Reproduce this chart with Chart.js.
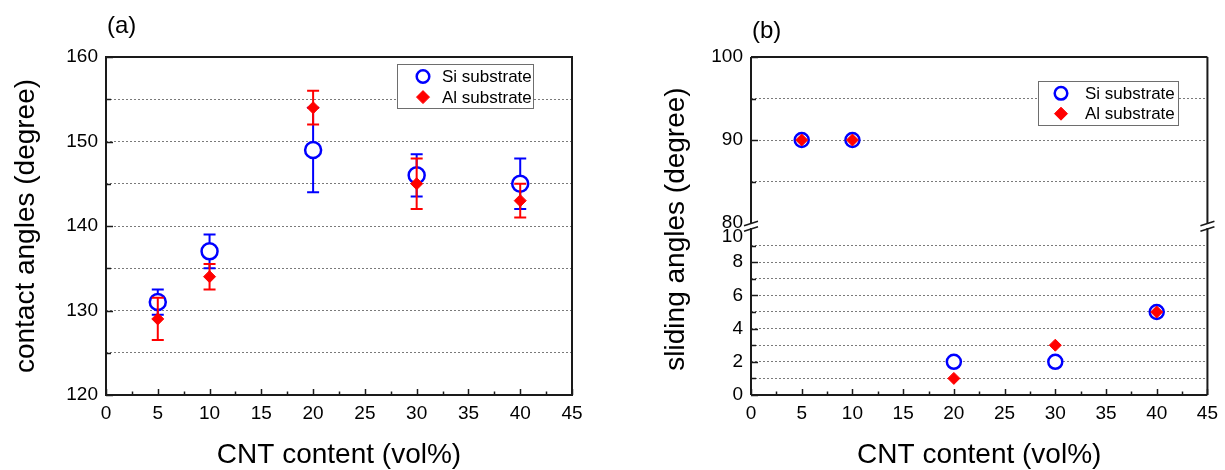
<!DOCTYPE html>
<html>
<head>
<meta charset="utf-8">
<title>Contact and sliding angles</title>
<script src="https://cdn.jsdelivr.net/npm/chart.js"></script>
<style>
    html, body { margin: 0; padding: 0; background: #fff; }
    #wrap { position: relative; width: 1225px; height: 470px; }
    .panel { position: absolute; top: 0; height: 470px; }
    #panel-a { left: 0; width: 612px; }
    #panel-b { left: 612px; width: 613px; }
</style>
</head>
<body>
<div id="wrap">
    <div class="panel" id="panel-a"><canvas id="contact"></canvas></div>
    <div class="panel" id="panel-b"><canvas id="sliding"></canvas></div>
</div>
<script>
const FONT = '"Liberation Sans", Arial, sans-serif';
Chart.defaults.font.family = FONT;
Chart.defaults.color = '#000';

// CNT content of the coatings (vol%)
const cntContent = [5, 10, 20, 30, 40];

// contact angles and their error (+/-)
const siContact = [131, 137, 149, 146, 145];
const siContactErr = [1.5, 2, 5, 2.5, 3];
const alContact = [129, 134, 154, 145, 143];
const alContactErr = [2.5, 1.5, 2, 3, 2];

// sliding angles, 90 means the droplet did not slide
const siSliding = [90, 90, 2, 2, 5];
const alSliding = [90, 90, 1, 3, 5];

const xTickLabels = [0, 5, 10, 15, 20, 25, 30, 35, 40, 45];
const contactTickLabels = [120, 130, 140, 150, 160];
const slidingHighLabels = [80, 90, 100];
const slidingLowLabels = [0, 2, 4, 6, 8, 10];

const BLUE = '#0000ff';
const RED = '#ff0000';
const GRID = '#7a7a7a';
const AXIS = '#1a1a1a';

const points = (xs, ys) => xs.map((x, i) => ({ x, y: ys[i] }));

function siStyle(r) {
    return {
        pointStyle: 'circle', pointRadius: r, pointHoverRadius: r,
        pointBackgroundColor: '#fff', pointBorderColor: BLUE, pointBorderWidth: 2.5,
        borderColor: BLUE, backgroundColor: '#fff',
    };
}

function alStyle(r) {
    return {
        pointStyle: 'rectRot', pointRadius: r, pointHoverRadius: r,
        pointBackgroundColor: RED, pointBorderColor: RED, pointBorderWidth: 1,
        borderColor: RED, backgroundColor: RED,
    };
}

function xAxis() {
    return {
        type: 'linear', min: 0, max: 45,
        afterFit: (s) => { s.height = 75; },
        ticks: {
            stepSize: 2.5, autoSkip: false, maxRotation: 0, padding: 7,
            font: { size: 19 },
            callback: (v) => (xTickLabels.includes(v) ? v : ''),
        },
        grid: { display: false, drawTicks: false },
        border: { display: false },
        title: {
            display: true, text: 'CNT content (vol%)',
            font: { size: 28, lineHeight: 1 }, padding: { top: 0, bottom: 1 },
        },
    };
}

function gridColor(lo, hi) {
    return (c) => (c.tick && c.tick.value > lo && c.tick.value < hi ? GRID : 'rgba(0,0,0,0)');
}

// vertical error bars, drawn just before their own dataset
function errorBars(errs) {
    return {
        id: 'errorBars',
        beforeDatasetDraw(chart, args) {
            const err = errs[args.index];
            if (!err) return;
            const ds = chart.data.datasets[args.index];
            const yScale = chart.scales[args.meta.yAxisID];
            const ctx = chart.ctx;
            ctx.save();
            ctx.strokeStyle = ds.pointBorderColor;
            ctx.lineWidth = 2;
            args.meta.data.forEach((pt, i) => {
                const v = ds.data[i].y;
                const top = yScale.getPixelForValue(v + err[i]);
                const bot = yScale.getPixelForValue(v - err[i]);
                ctx.beginPath();
                ctx.moveTo(pt.x, top); ctx.lineTo(pt.x, bot);
                ctx.moveTo(pt.x - 6, top); ctx.lineTo(pt.x + 6, top);
                ctx.moveTo(pt.x - 6, bot); ctx.lineTo(pt.x + 6, bot);
                ctx.stroke();
            });
            ctx.restore();
        },
    };
}

// frame, inward ticks, axis break, boxed legend and panel letter
function decor(cfg) {
    return {
        id: 'decor',
        afterDraw(chart) {
            const { ctx, chartArea: a } = chart;
            ctx.save();

            // tick marks pointing into the plot
            ctx.strokeStyle = AXIS;
            ctx.lineWidth = 1.5;
            const xs = chart.scales.x;
            xs.ticks.forEach((t) => {
                const px = Math.round(xs.getPixelForValue(t.value)) + 0.5;
                const len = t.value % 5 === 0 ? 6 : 3.5;
                ctx.beginPath(); ctx.moveTo(px, a.bottom); ctx.lineTo(px, a.bottom - len); ctx.stroke();
            });
            cfg.yAxes.forEach(({ id, major, skip }) => {
                const ys = chart.scales[id];
                ys.ticks.forEach((t) => {
                    if (skip.includes(t.value)) return;
                    const py = Math.round(ys.getPixelForValue(t.value)) + 0.5;
                    const len = major.includes(t.value) ? 7 : 5;
                    ctx.beginPath(); ctx.moveTo(a.left, py); ctx.lineTo(a.left + len, py); ctx.stroke();
                });
            });

            // plot frame
            ctx.lineWidth = 2;
            ctx.beginPath();
            if (cfg.brk) {
                const yb1 = chart.scales[cfg.brk.upper].bottom;
                const yb2 = chart.scales[cfg.brk.lower].getPixelForValue(cfg.brk.lowerMax);
                [a.left, a.right].forEach((x) => {
                    ctx.moveTo(x, a.top); ctx.lineTo(x, yb1 + 1);
                    ctx.moveTo(x, yb2 - 1); ctx.lineTo(x, a.bottom);
                });
                ctx.moveTo(a.left, a.top); ctx.lineTo(a.right, a.top);
                ctx.moveTo(a.left, a.bottom); ctx.lineTo(a.right, a.bottom);
                ctx.stroke();
                ctx.lineWidth = 1.5;
                ctx.beginPath();
                [a.left, a.right].forEach((x) => {
                    [yb1 + 0.5, yb2].forEach((y) => {
                        ctx.moveTo(x - 7, y + 2.3); ctx.lineTo(x + 7, y - 2.3);
                    });
                });
                ctx.stroke();
            } else {
                ctx.rect(a.left, a.top, a.right - a.left, a.bottom - a.top);
                ctx.stroke();
            }

            // legend box
            const L = cfg.legend;
            const x0 = Math.round(a.right - L.right - L.width);
            const y0 = Math.round(a.top + L.top);
            ctx.fillStyle = '#fff';
            ctx.fillRect(x0, y0, L.width, L.height);
            ctx.strokeStyle = '#6e6e6e';
            ctx.lineWidth = 1;
            ctx.strokeRect(x0 + 0.5, y0 + 0.5, L.width, L.height);
            ctx.font = `17px ${FONT}`;
            ctx.textAlign = 'left';
            ctx.textBaseline = 'middle';
            L.items.forEach((it, i) => {
                const cy = y0 + L.rowTop + i * L.rowGap;
                ctx.fillStyle = it.fill;
                ctx.strokeStyle = it.stroke;
                ctx.lineWidth = it.borderWidth;
                Chart.helpers.drawPoint(ctx, {
                    pointStyle: it.style, radius: it.radius, rotation: 0, borderWidth: it.borderWidth,
                }, x0 + L.markerX, cy);
                ctx.fillStyle = '#000';
                ctx.fillText(it.label, x0 + L.textX, cy + 1);
            });

            // panel letter
            ctx.font = `24px ${FONT}`;
            ctx.fillStyle = '#000';
            ctx.fillText(cfg.letter, a.left + 1, cfg.letterY);

            // shared title for a broken y axis
            if (cfg.yTitle) {
                ctx.translate(cfg.yTitle.x, (a.top + a.bottom) / 2 + 3);
                ctx.rotate(-Math.PI / 2);
                ctx.textAlign = 'center';
                ctx.font = `28px ${FONT}`;
                ctx.fillText(cfg.yTitle.text, 0, 0);
            }
            ctx.restore();
        },
    };
}

const siLegend = { label: 'Si substrate', style: 'circle', radius: 6.3, fill: '#fff', stroke: BLUE, borderWidth: 2.5 };
const alLegend = { label: 'Al substrate', style: 'rectRot', radius: 6.5, fill: RED, stroke: RED, borderWidth: 1 };

// (a) contact angles
new Chart(document.getElementById('contact'), {
    type: 'scatter',
    data: {
        datasets: [
            { label: 'Al substrate', data: points(cntContent, alContact), order: 0, ...alStyle(6) },
            { label: 'Si substrate', data: points(cntContent, siContact), order: 1, ...siStyle(8) },
        ],
    },
    options: {
        responsive: true,
        maintainAspectRatio: false,
        animation: false,
        layout: { padding: { left: 0, right: 40, top: 57, bottom: 0 } },
        plugins: { legend: { display: false }, tooltip: { enabled: false } },
        scales: {
            x: xAxis(),
            y: {
                type: 'linear', min: 120, max: 160,
                afterFit: (s) => { s.width = 106; },
                ticks: {
                    stepSize: 5, padding: 8, autoSkip: false, font: { size: 19 },
                    callback: (v) => (contactTickLabels.includes(v) ? v : ''),
                },
                grid: { color: gridColor(120, 160), lineWidth: 1, drawTicks: false },
                border: { display: false, dash: [2, 2] },
                title: {
                    display: true, text: 'contact angles (degree)',
                    font: { size: 28 }, padding: { top: 9, bottom: 0 },
                },
            },
        },
    },
    plugins: [
        errorBars({ 0: alContactErr, 1: siContactErr }),
        decor({
            letter: '(a)', letterY: 26,
            yAxes: [{ id: 'y', major: contactTickLabels, skip: [] }],
            legend: {
                right: 39, top: 7, width: 136, height: 44,
                markerX: 26, textX: 45, rowTop: 12.5, rowGap: 20.6,
                items: [siLegend, alLegend],
            },
        }),
    ],
});

// (b) sliding angles on a broken axis
const SPLIT = 50;
const highPart = (ys) => points(cntContent, ys).filter((p) => p.y >= SPLIT);
const lowPart = (ys) => points(cntContent, ys).filter((p) => p.y < SPLIT);

new Chart(document.getElementById('sliding'), {
    type: 'scatter',
    data: {
        datasets: [
            { label: 'Al substrate', data: highPart(alSliding), yAxisID: 'yHigh', order: 0, ...alStyle(6) },
            { label: 'Al substrate', data: lowPart(alSliding), yAxisID: 'yLow', order: 0, ...alStyle(6) },
            { label: 'Si substrate', data: highPart(siSliding), yAxisID: 'yHigh', order: 1, ...siStyle(7) },
            { label: 'Si substrate', data: lowPart(siSliding), yAxisID: 'yLow', order: 1, ...siStyle(7) },
        ],
    },
    options: {
        responsive: true,
        maintainAspectRatio: false,
        animation: false,
        layout: { padding: { left: 40, right: 11, top: 57, bottom: 0 } },
        plugins: { legend: { display: false }, tooltip: { enabled: false } },
        scales: {
            x: xAxis(),
            yLow: {
                type: 'linear', position: 'left', stack: 'sliding', stackWeight: 172,
                min: 0, max: 10.36,
                afterFit: (s) => { s.width = 99; },
                ticks: {
                    stepSize: 1, padding: 8, includeBounds: false, autoSkip: false,
                    font: (c) => ({ size: 19, lineHeight: c.tick && c.tick.value === 10 ? 0.8 : 1.2 }),
                    callback: (v) => {
                        if (!slidingLowLabels.includes(v)) return '';
                        return v === 10 ? ['', '10'] : v;
                    },
                },
                grid: { color: gridColor(0, 10), lineWidth: 1, drawTicks: false },
                border: { display: false, dash: [2, 2] },
            },
            yHigh: {
                type: 'linear', position: 'left', stack: 'sliding', stackWeight: 166,
                min: 80, max: 100,
                afterFit: (s) => { s.width = 99; },
                ticks: {
                    stepSize: 5, padding: 8, autoSkip: false, font: { size: 19 },
                    callback: (v) => (slidingHighLabels.includes(v) ? v : ''),
                },
                grid: { color: gridColor(80, 100), lineWidth: 1, drawTicks: false },
                border: { display: false, dash: [2, 2] },
            },
        },
    },
    plugins: [
        decor({
            letter: '(b)', letterY: 31,
            yAxes: [
                { id: 'yHigh', major: slidingHighLabels, skip: [80] },
                { id: 'yLow', major: slidingLowLabels, skip: [10] },
            ],
            brk: { upper: 'yHigh', lower: 'yLow', lowerMax: 10 },
            yTitle: { x: 64, text: 'sliding angles (degree)' },
            legend: {
                right: 29, top: 24, width: 140, height: 44,
                markerX: 23, textX: 47, rowTop: 12.3, rowGap: 20.4,
                items: [siLegend, alLegend],
            },
        }),
    ],
});
</script>
</body>
</html>
